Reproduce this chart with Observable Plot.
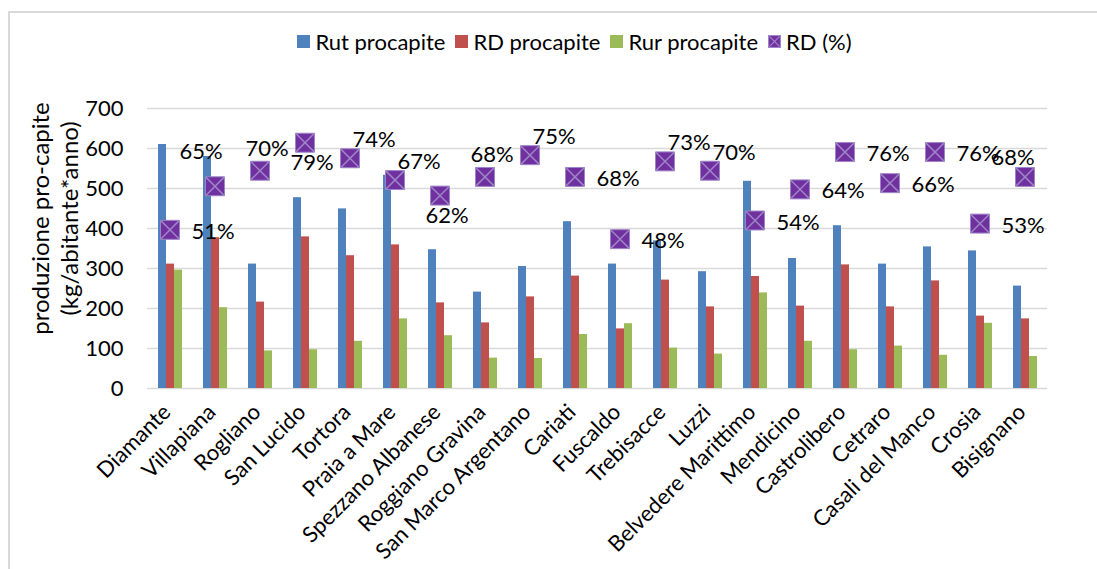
<!DOCTYPE html>
<html>
<head>
<meta charset="utf-8">
<script src="https://cdn.jsdelivr.net/npm/d3@7"></script>
<script src="https://cdn.jsdelivr.net/npm/@observablehq/plot@0.6"></script>
<style>
  body { margin: 0; background: #fff; font-family: Lato, sans-serif; }
  #wrap { position: relative; width: 1097px; height: 569px; overflow: hidden; background: #fff; }
  #frame { position: absolute; left: 8px; top: 11px; right: -5px; bottom: -5px;
           border-top: 2px solid #d9d9d9; border-left: 2px solid #d9d9d9; pointer-events: none; }
  #legend { height: 62px; box-sizing: border-box; padding-top: 20px; padding-left: 52px;
            display: flex; justify-content: center; align-items: center; font-size: 22px; color: #000; }
  .item { display: flex; align-items: center; margin: 0 5px; }
  .sw { width: 13px; height: 13px; margin-right: 5px; }
  #chart svg { display: block; }
</style>
</head>
<body>
<div id="wrap">
  <div id="legend"></div>
  <div id="chart"></div>
  <div id="frame"></div>
</div>
<script>
// ---- data ----
const municipalities = ["Diamante","Villapiana","Rogliano","San Lucido","Tortora","Praia a Mare",
  "Spezzano Albanese","Roggiano Gravina","San Marco Argentano","Cariati","Fuscaldo","Trebisacce",
  "Luzzi","Belvedere Marittimo","Mendicino","Castrolibero","Cetraro","Casali del Manco","Crosia","Bisignano"];
const rutProcapite = [610,580,311,477,449,533,347,241,305,417,311,369,292,518,325,407,311,354,344,256];
const rdProcapite  = [311,377,216,379,332,359,214,164,229,281,149,271,204,280,206,309,204,269,181,174];
const rurProcapite = [296,202,94,97,118,174,132,76,75,135,162,101,86,239,118,97,106,83,163,80];
const rdPercent    = [51,65,70,79,74,67,62,68,75,68,48,73,70,54,64,76,66,76,53,68];
const barSeries = ["Rut procapite","RD procapite","Rur procapite"];
const pctSeries = "RD (%)";
const yTicks = [0,100,200,300,400,500,600,700];
const pctAxisMax = 90;   // hidden secondary axis: 0–90 %
const yTitle = "produzione pro-capite\n(kg/abitante*anno)";
// data-label placement as set in the original workbook
const labelPlacement = ["right","farAboveLeft","above","below","aboveRight","aboveRight","below","above",
  "aboveRight","right","right","aboveRight","aboveRight","right","right","right","right","right","right","aboveLeft"];

// ---- styles ----
const colors = ["#4f81bd","#c0504d","#9bbb59"];
const markerFill = "#7030a0", markerLine = "#9d85c6";
const fontSize = 22;
const placementOffsets = {
  right: [43, 2], above: [7, -22], below: [7, 20], aboveRight: [24, -18],
  aboveLeft: [-12, -19], farAboveLeft: [-14, -34]
};

// ---- tables ----
const rows = municipalities.map((name, i) => ({
  name, pct: rdPercent[i], place: labelPlacement[i],
  values: [rutProcapite[i], rdProcapite[i], rurProcapite[i]]
}));
const bars = rows.flatMap(r => barSeries.map((s, j) => ({name: r.name, series: s, value: r.values[j]})));
const yMax = yTicks[yTicks.length - 1];
const pctY = d => d.pct * yMax / pctAxisMax;

// ---- legend ----
const legend = document.getElementById("legend");
barSeries.forEach((s, j) => {
  const it = document.createElement("div"); it.className = "item";
  it.innerHTML = `<div class="sw" style="background:${colors[j]}"></div><span>${s}</span>`;
  legend.appendChild(it);
});
{
  const it = document.createElement("div"); it.className = "item";
  it.innerHTML = `<svg class="sw" viewBox="0 0 12 12" width="13" height="13"><rect x="0.5" y="0.5" width="11" height="11" fill="${markerFill}" stroke="${markerLine}"/><path d="M1.5,1.5L10.5,10.5M10.5,1.5L1.5,10.5" stroke="${markerLine}" stroke-width="1.2"/></svg><span>${pctSeries}</span>`;
  legend.appendChild(it);
}

// ---- chart ----
const labelMarks = Object.entries(placementOffsets).map(([p, [dx, dy]]) =>
  Plot.text(rows, {filter: d => d.place === p, fx: "name", y: pctY, text: d => d.pct + "%",
    dx, dy, fontSize, fill: "#000"}));

const chart = Plot.plot({
  width: 1097, height: 507,
  marginTop: 46, marginBottom: 181, marginLeft: 142, marginRight: 45,
  style: {fontFamily: "Lato, sans-serif", fontSize: fontSize + "px", color: "#000", background: "#fff"},
  fx: {domain: municipalities, padding: 0, label: null, axis: null},
  x: {domain: barSeries, paddingInner: 0, paddingOuter: 1.125, axis: null},
  y: {domain: [0, yMax], ticks: yTicks, tickSize: 0, tickPadding: 24, label: null},
  color: {domain: barSeries, range: colors},
  marks: [
    Plot.ruleY(yTicks, {stroke: "#d9d9d9", strokeWidth: 1.6}),
    Plot.barY(bars, {fx: "name", x: "series", y: "value", fill: "series"}),
    Plot.dot(rows, {fx: "name", y: pctY, symbol: "square", r: 10.7, fill: markerFill, stroke: markerLine, strokeWidth: 1}),
    Plot.dot(rows, {fx: "name", y: pctY, symbol: "times", r: 8.4, stroke: markerLine, strokeWidth: 1.5}),
    ...labelMarks,
    Plot.axisFx({anchor: "bottom", tickRotate: -45, tickSize: 0, tickPadding: 20, fontSize: 22, label: null, dx: -3}),
    Plot.text([yTitle], {facet: "super", frameAnchor: "left", textAnchor: "middle", lineAnchor: "middle",
      rotate: -90, dx: -93, dy: -30, lineHeight: 1.17, fontSize: 24, fill: "#000"})
  ]
});
document.getElementById("chart").appendChild(chart);
</script>
</body>
</html>
